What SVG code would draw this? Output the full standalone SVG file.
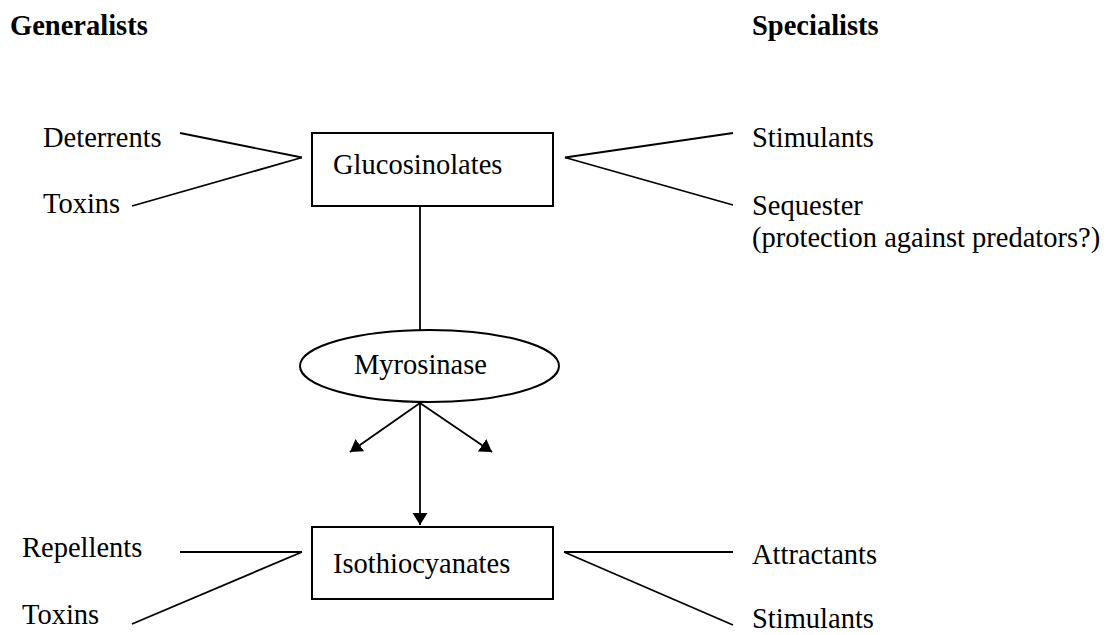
<svg xmlns="http://www.w3.org/2000/svg" width="1108" height="635" viewBox="0 0 1108 635">
  <defs>
    <marker id="arrow" markerUnits="userSpaceOnUse" markerWidth="16" markerHeight="16" refX="12" refY="7.5" orient="auto">
      <path d="M0,0 L12,7.5 L0,15 z" fill="#000"/>
    </marker>
    <style>
      text { font-family: "Liberation Serif", "Times New Roman", serif; font-size: 28.5px; fill: #000; }
      .head { font-weight: bold; }
      .box { fill: #fff; stroke: #000; stroke-width: 2; }
      .conn line { stroke: #000; stroke-width: 1.8; fill: none; }
      .arr { marker-end: url(#arrow); }
    </style>
  </defs>
  <rect width="1108" height="635" fill="#fff"/>

  <g id="headers">
    <text class="head" x="10" y="35">Generalists</text>
    <text class="head" x="752" y="35">Specialists</text>
  </g>

  <g id="connectors" class="conn">
    <line x1="180" y1="133" x2="302" y2="157.5"/>
    <line x1="132" y1="206" x2="302" y2="157.5"/>
    <line x1="565" y1="157.5" x2="733" y2="133"/>
    <line x1="565" y1="157.5" x2="733" y2="205"/>
    <line x1="420" y1="206" x2="420" y2="330"/>
    <line class="arr" x1="420" y1="403" x2="350" y2="452"/>
    <line class="arr" x1="420" y1="403" x2="492" y2="452"/>
    <line class="arr" x1="420" y1="403" x2="420" y2="525"/>
    <line x1="180" y1="552" x2="302" y2="552"/>
    <line x1="132" y1="624" x2="302" y2="552"/>
    <line x1="564" y1="552" x2="733" y2="552"/>
    <line x1="564" y1="552" x2="733" y2="625"/>
  </g>

  <g id="glucosinolates">
    <rect class="box" x="312" y="133" width="241" height="73"/>
    <text x="333" y="174">Glucosinolates</text>
  </g>

  <g id="myrosinase">
    <ellipse class="box" cx="429.5" cy="366" rx="129.5" ry="36"/>
    <text x="354" y="374">Myrosinase</text>
  </g>

  <g id="isothiocyanates">
    <rect class="box" x="312" y="527" width="241" height="72"/>
    <text x="333" y="573">Isothiocyanates</text>
  </g>

  <g id="deterrents"><text x="43" y="147">Deterrents</text></g>
  <g id="toxins-top"><text x="43" y="213">Toxins</text></g>
  <g id="stimulants-top"><text x="752" y="147">Stimulants</text></g>
  <g id="sequester">
    <text x="752" y="215">Sequester</text>
    <text x="752" y="247">(protection against predators?)</text>
  </g>
  <g id="repellents"><text x="22" y="557">Repellents</text></g>
  <g id="toxins-bottom"><text x="22" y="624">Toxins</text></g>
  <g id="attractants"><text x="752" y="564">Attractants</text></g>
  <g id="stimulants-bottom"><text x="752" y="628">Stimulants</text></g>
</svg>
